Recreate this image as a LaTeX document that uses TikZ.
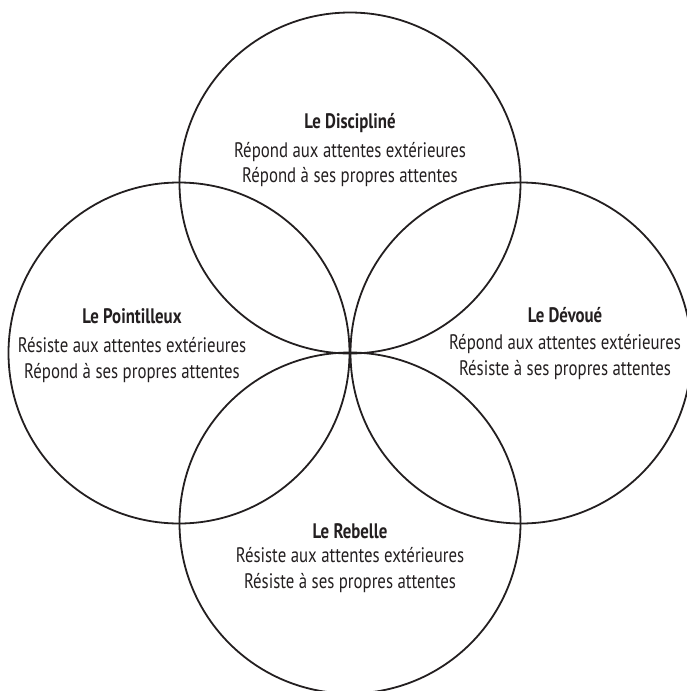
\documentclass[tikz,border=0pt]{standalone}
\usepackage{fontspec}
\setmainfont[FakeStretch=0.8]{PT Sans}
\usetikzlibrary{positioning}
\definecolor{ink}{HTML}{231F20}

\tikzset{
ring/.style={circle, draw=ink, line width=1.8pt, minimum size=341pt, inner sep=0pt},
title/.style={anchor=base, text=ink, inner sep=0pt, font=\fontsize{21}{25}\selectfont\bfseries},
trait/.style={anchor=base, text=ink, inner sep=0pt, font=\fontsize{21}{25}\selectfont}
}

\begin{document}
\begin{tikzpicture}[x=1pt,y=-1pt]
\useasboundingbox (0,0) rectangle (687,691);

\node[ring](disc) at (350,183){};
\node[ring](poin) at (179,353){};
\node[ring](devo) at (521,353){};
\node[ring](rebe) at (350,523){};

\node[title](discT) at (350,128){Le Discipliné};
\node[trait](discA) at (350,157){Répond aux attentes extérieures};
\node[trait](discB) at (350,182){Répond à ses propres attentes};

\node[title](poinT) at (132,323){Le Pointilleux};
\node[trait](poinA) at (132,352){Résiste aux attentes extérieures};
\node[trait](poinB) at (132,378){Répond à ses propres attentes};

\node[title](devoT) at (565,322){Le Dévoué};
\node[trait](devoA) at (565,349){Répond aux attentes extérieures};
\node[trait](devoB) at (565,375){Résiste à ses propres attentes};

\node[title](rebeT) at (350,538){Le Rebelle};
\node[trait](rebeA) at (350,562){Résiste aux attentes extérieures};
\node[trait](rebeB) at (350,588){Résiste à ses propres attentes};
\end{tikzpicture}
\end{document}
